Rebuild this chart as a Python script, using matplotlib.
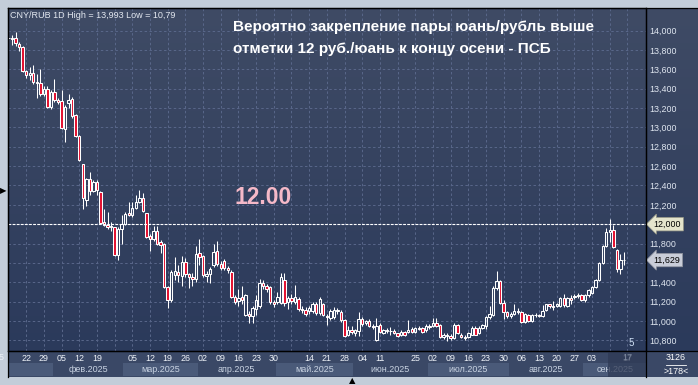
import numpy as np
import pandas as pd
import matplotlib
matplotlib.use("Agg")
import matplotlib.pyplot as plt
from matplotlib.colors import LinearSegmentedColormap
from matplotlib.patches import Rectangle
from matplotlib.lines import Line2D
import matplotlib.transforms as mtransforms

# CNY/RUB daily candles, 15 Jan 2025 onwards (business days)
opens = [13.92, 13.91, 13.93, 13.86, 13.83, 13.58, 13.54, 13.56, 13.47, 13.46,
         13.35, 13.40, 13.21, 13.37, 13.28, 13.27, 12.98, 13.25, 13.29, 13.13,
         12.91, 12.62, 12.25, 12.47, 12.34, 12.44, 12.33, 12.02, 11.99, 11.97,
         11.97, 11.68, 11.95, 12.00, 12.12, 12.10, 12.17, 12.23, 12.27, 12.12,
         11.88, 11.85, 11.93, 11.82, 11.80, 11.35, 11.22, 11.475, 11.51, 11.46,
         11.61, 11.48, 11.45, 11.43, 11.70, 11.67, 11.46, 11.48, 11.58, 11.72,
         11.59, 11.62, 11.55, 11.51, 11.25, 11.21, 11.25, 11.06, 11.07, 11.05,
         11.12, 11.15, 11.39, 11.36, 11.35, 11.20, 11.20, 11.19, 11.42, 11.20,
         11.24, 11.20, 11.23, 11.12, 11.11, 11.10, 11.10, 11.18, 11.08, 11.18,
         11.05, 11.03, 11.04, 11.10, 11.09, 11.01, 10.855, 10.91, 10.88, 10.90,
         11.02, 10.98, 11.00, 10.95, 10.80, 10.96, 10.88, 10.91, 10.90, 10.90,
         10.87, 10.85, 10.89, 10.89, 10.92, 10.89, 10.93, 10.93, 10.91, 10.95,
         10.95, 10.98, 10.96, 10.83, 10.85, 10.84, 10.82, 10.96, 10.855, 10.83,
         10.83, 10.855, 10.93, 10.87, 10.93, 10.95, 11.04, 11.06, 11.34, 11.41,
         11.19, 11.09, 11.05, 11.07, 11.10, 11.09, 10.99, 11.06, 11.00, 11.06,
         11.06, 11.05, 11.11, 11.17, 11.15, 11.15, 11.15, 11.24, 11.15, 11.24,
         11.25, 11.26, 11.27, 11.22, 11.27, 11.29, 11.35, 11.42, 11.60, 11.77,
         11.92, 11.94, 11.73, 11.54, 11.63]
highs = [13.95, 13.955, 13.99, 13.88, 13.84, 13.59, 13.62, 13.65, 13.55, 13.60,
         13.43, 13.43, 13.39, 13.50, 13.30, 13.39, 13.23, 13.35, 13.32, 13.14,
         12.92, 12.62, 12.48, 12.54, 12.46, 12.46, 12.34, 12.16, 12.13, 12.02,
         11.97, 11.97, 12.10, 12.13, 12.23, 12.23, 12.30, 12.35, 12.32, 12.12,
         11.90, 11.98, 11.98, 11.84, 11.81, 11.36, 11.53, 11.66, 11.58, 11.67,
         11.65, 11.50, 11.50, 11.77, 11.85, 11.68, 11.52, 11.56, 11.80, 11.83,
         11.62, 11.64, 11.57, 11.53, 11.27, 11.33, 11.36, 11.28, 11.10, 11.15,
         11.27, 11.43, 11.42, 11.38, 11.36, 11.22, 11.30, 11.50, 11.50, 11.26,
         11.28, 11.37, 11.25, 11.15, 11.14, 11.15, 11.20, 11.20, 11.25, 11.19,
         11.07, 11.12, 11.14, 11.13, 11.11, 11.02, 10.95, 10.95, 10.92, 11.09,
         11.04, 11.01, 11.02, 10.97, 11.03, 10.98, 10.92, 10.93, 10.94, 10.92,
         10.88, 10.91, 10.90, 11.01, 10.94, 10.94, 10.95, 10.94, 10.97, 10.97,
         11.03, 11.03, 10.97, 10.87, 10.87, 10.86, 10.98, 10.97, 10.87, 10.85,
         10.89, 10.95, 10.95, 10.95, 10.97, 11.05, 11.15, 11.36, 11.52, 11.42,
         11.22, 11.10, 11.09, 11.17, 11.13, 11.10, 11.08, 11.07, 11.07, 11.08,
         11.07, 11.16, 11.18, 11.18, 11.21, 11.19, 11.25, 11.28, 11.25, 11.27,
         11.28, 11.29, 11.28, 11.28, 11.33, 11.36, 11.43, 11.61, 11.78, 11.96,
         12.05, 11.99, 11.74, 11.69, 11.71]
lows = [13.90, 13.85, 13.84, 13.79, 13.57, 13.51, 13.49, 13.45, 13.30, 13.33,
        13.33, 13.20, 13.19, 13.26, 13.24, 12.98, 12.85, 13.20, 13.10, 12.90,
        12.65, 12.16, 12.19, 12.30, 12.33, 12.30, 12.00, 11.98, 11.95, 11.93,
        11.67, 11.63, 11.80, 11.99, 12.08, 12.07, 12.16, 12.22, 12.13, 11.86,
        11.72, 11.83, 11.78, 11.70, 11.34, 11.13, 11.20, 11.42, 11.40, 11.36,
        11.45, 11.34, 11.36, 11.40, 11.58, 11.45, 11.40, 11.39, 11.56, 11.57,
        11.53, 11.53, 11.50, 11.24, 11.17, 11.15, 11.18, 11.05, 10.98, 10.98,
        11.06, 11.13, 11.33, 11.30, 11.18, 11.14, 11.18, 11.17, 11.15, 11.12,
        11.17, 11.18, 11.10, 11.08, 11.05, 11.07, 11.08, 11.06, 11.06, 11.05,
        10.96, 11.01, 11.02, 11.07, 10.99, 10.83, 10.84, 10.86, 10.84, 10.84,
        10.95, 10.96, 10.94, 10.92, 10.79, 10.88, 10.86, 10.88, 10.85, 10.86,
        10.83, 10.84, 10.84, 10.87, 10.87, 10.87, 10.91, 10.88, 10.89, 10.92,
        10.94, 10.94, 10.82, 10.81, 10.79, 10.80, 10.81, 10.86, 10.82, 10.80,
        10.82, 10.85, 10.85, 10.86, 10.92, 10.92, 11.02, 11.05, 11.32, 11.18,
        11.02, 11.03, 11.03, 11.06, 11.07, 10.98, 10.98, 10.99, 10.99, 11.04,
        11.04, 11.04, 11.10, 11.13, 11.11, 11.14, 11.14, 11.14, 11.14, 11.18,
        11.23, 11.24, 11.21, 11.20, 11.25, 11.28, 11.34, 11.41, 11.59, 11.76,
        11.82, 11.75, 11.51, 11.48, 11.58]
closes = [13.93, 13.93, 13.87, 13.83, 13.58, 13.54, 13.56, 13.47, 13.46, 13.35,
          13.40, 13.21, 13.37, 13.28, 13.26, 12.99, 13.21, 13.28, 13.12, 12.91,
          12.66, 12.27, 12.47, 12.34, 12.44, 12.35, 12.01, 11.99, 11.97, 11.98,
          11.68, 11.95, 12.00, 12.11, 12.10, 12.17, 12.23, 12.27, 12.14, 11.87,
          11.85, 11.93, 11.80, 11.79, 11.35, 11.22, 11.51, 11.52, 11.47, 11.61,
          11.48, 11.45, 11.43, 11.69, 11.66, 11.47, 11.48, 11.54, 11.71, 11.59,
          11.55, 11.55, 11.53, 11.25, 11.20, 11.24, 11.22, 11.27, 11.05, 11.13,
          11.22, 11.39, 11.36, 11.33, 11.20, 11.18, 11.25, 11.45, 11.19, 11.24,
          11.21, 11.25, 11.12, 11.11, 11.07, 11.13, 11.18, 11.08, 11.23, 11.06,
          11.04, 11.10, 11.11, 11.11, 11.01, 10.84, 10.91, 10.89, 10.91, 11.02,
          10.97, 11.00, 10.95, 10.94, 10.95, 10.89, 10.91, 10.90, 10.90, 10.87,
          10.84, 10.89, 10.85, 10.91, 10.89, 10.93, 10.92, 10.89, 10.95, 10.94,
          10.98, 10.95, 10.83, 10.855, 10.84, 10.82, 10.96, 10.87, 10.83, 10.82,
          10.87, 10.93, 10.855, 10.93, 10.96, 11.04, 11.07, 11.34, 11.41, 11.19,
          11.09, 11.05, 11.07, 11.10, 11.09, 10.99, 11.07, 11.00, 11.06, 11.06,
          11.05, 11.10, 11.17, 11.15, 11.14, 11.17, 11.24, 11.16, 11.24, 11.22,
          11.26, 11.27, 11.22, 11.27, 11.32, 11.35, 11.42, 11.60, 11.77, 11.92,
          11.94, 11.76, 11.54, 11.63, 11.629]

# price scale labels (12,000 and 11,600 sit under the price tags)
y_ticks = [10.8, 11.0, 11.2, 11.4, 11.6, 11.8, 12.0, 12.2, 12.4, 12.6, 12.8,
           13.0, 13.2, 13.4, 13.6, 13.8, 14.0]
tagged_ticks = [11.6, 12.0]
hidden_days = ["2025-01-15", "2025-02-26", "2025-05-07", "2025-06-18", "2025-09-10"]
month_names = {1: "янв", 2: "фев", 3: "мар", 4: "апр", 5: "май", 6: "июн",
               7: "июл", 8: "авг", 9: "сен"}
level = 12.0

W, H = 698, 385
plt.rcParams["font.family"] = ["Liberation Sans", "DejaVu Sans"]


def fx(px):
    return px / W


def fy(py):
    return 1 - py / H


fig = plt.figure(figsize=(W / 100, H / 100), dpi=100, facecolor="#c3cdd9")

# gradient background for plot + right price panel
bg = fig.add_axes([fx(8), fy(351), (698 - 8) / W, (351 - 8) / H], zorder=0)
cmap = LinearSegmentedColormap.from_list("bg", ["#3f4b65", "#2b3a5b"])
bg.imshow(np.linspace(0, 1, 256).reshape(-1, 1), aspect="auto", cmap=cmap,
          extent=[0, 1, 0, 1])
bg.axis("off")

ax = fig.add_axes([fx(8), fy(351), (646 - 8) / W, (351 - 8) / H], zorder=2)
ax.set_facecolor("none")

cal = pd.bdate_range("2025-01-15", "2025-09-30")
n = len(closes)
x = np.arange(n)
o, h, l, c = map(np.array, (opens, highs, lows, closes))
up = c >= o
top = np.maximum(o, c)
bot = np.minimum(o, c)

ax.vlines(x, top, h, color="white", lw=0.75, zorder=3)
ax.vlines(x, l, bot, color="white", lw=0.75, zorder=3)
ax.bar(x[up], (top - bot)[up], bottom=bot[up], width=0.68,
       facecolor="none", edgecolor="white", lw=0.75, zorder=4)
ax.bar(x[~up], (top - bot)[~up], bottom=bot[~up], width=0.68,
       facecolor="#e3102f", edgecolor="white", lw=0.75, zorder=4)

ax.set_xlim(-0.14, 180.24)
ax.set_ylim(10.689, 14.235)

# weekly (Wednesday) grid
weds = pd.date_range("2025-01-15", "2025-09-17", freq="W-WED")
wed_pos = [cal.get_loc(d) for d in weds]
ax.set_xticks(wed_pos)
ax.set_yticks(y_ticks)
ax.set_yticklabels(["" if v in tagged_ticks else f"{v:.3f}".replace(".", ",")
                    for v in y_ticks])
ax.yaxis.tick_right()
ax.tick_params(axis="y", length=0, pad=2.5, labelsize=6.4, labelcolor="#dfe6f0")
ax.tick_params(axis="x", length=0, labelbottom=False)
ax.grid(True, ls=(0, (2.5, 2.5)), color="#59678a", lw=0.7, zorder=1)
for s in ax.spines.values():
    s.set_color("black")
    s.set_linewidth(0.9)

ax.axhline(level, color="white", lw=0.8, ls=(0, (2.5, 1.2)), zorder=5)

# price tags on the right
tr = mtransforms.blended_transform_factory(ax.transAxes, ax.transData)
ax.text(1.012, level, "12,000", transform=tr, fontsize=6.4, color="black",
        va="center", ha="left", zorder=6, clip_on=False,
        bbox=dict(boxstyle="larrow,pad=0.25", fc="#e4e4cc", ec="#9a9a88", lw=0.5))
ax.text(1.012, closes[-1], f"{closes[-1]:.3f}".replace(".", ","), transform=tr,
        fontsize=6.4, color="black", va="center", ha="left", zorder=6,
        clip_on=False,
        bbox=dict(boxstyle="larrow,pad=0.25", fc="#c9cdd8", ec="#8a8e9a", lw=0.5))

# date strip
axd = fig.add_axes([fx(8), fy(377), (646 - 8) / W, (377 - 351) / H], zorder=1)
axd.set_facecolor("#3a4866")
axd.set_xlim(ax.get_xlim())
axd.set_ylim(0, 1)
axd.set_xticks([])
axd.set_yticks([])
for s in axd.spines.values():
    s.set_visible(False)

for d, p in zip(weds, wed_pos):
    if d.strftime("%Y-%m-%d") in hidden_days:
        continue
    axd.text(p, 0.72, d.strftime("%d"), ha="center", va="center",
             fontsize=6.4, color="#eef2f8")

xmin, xmax = ax.get_xlim()
for m, name in month_names.items():
    idx = np.where(cal.month == m)[0]
    a = max(idx[0] - 0.5, xmin)
    b = min(idx[-1] + 0.5, xmax)
    if m % 2 == 1:
        axd.axvspan(a, b, ymin=0.04, ymax=0.54, color="#4a5a79", lw=0)
    if m > 1:
        axd.text((a + b) / 2, 0.27, f"{name}.2025", ha="center", va="center",
                 fontsize=6.5, color="#c9d3e2")

# cursor box over the last date
fig.patches.append(Rectangle((fx(608), fy(377)), 38 / W, 26 / H,
                             transform=fig.transFigure, fc="#2f3a55",
                             alpha=0.75, zorder=3))
fig.text(fx(627), fy(358), "17", ha="center", va="center", fontsize=6.4,
         color="#7f8aa0", zorder=4)

# bottom-right corner box
fig.patches.append(Rectangle((fx(646), fy(377)), 52 / W, 26 / H,
                             transform=fig.transFigure, fc="#3a4866", zorder=1))
fig.text(fx(676), fy(357.5), "3126", ha="center", va="center", fontsize=6.4,
         color="white", zorder=4)
fig.text(fx(676), fy(371.5), ">178<", ha="center", va="center", fontsize=6.4,
         color="white", zorder=4)
fig.add_artist(Line2D([fx(666), fx(686)], [fy(364.5), fy(364.5)], color="white",
                      lw=0.6, zorder=4))

# frame lines
for xs, ys in [([8, 698], [8, 8]), ([8, 698], [351, 351]), ([646, 646], [8, 377]),
               ([8, 8], [8, 377])]:
    fig.add_artist(Line2D([fx(v) for v in xs], [fy(v) for v in ys],
                          color="black", lw=0.9, zorder=5))

# texts
fig.text(fx(10), fy(16), "CNY/RUB 1D High = 13,993 Low = 10,79", fontsize=6.5,
         color="#e3e8f0", va="center", zorder=6)
fig.text(fx(233), fy(27), "Вероятно закрепление пары юань/рубль выше",
         fontsize=11, fontweight="bold", color="white", va="center", zorder=6)
fig.text(fx(233), fy(49), "отметки 12 руб./юань к концу осени - ПСБ",
         fontsize=11, fontweight="bold", color="white", va="center", zorder=6)
fig.text(fx(235), fy(198), "12.00", fontsize=16.5, fontweight="bold",
         color="#f5b9c8", va="center", zorder=6)
fig.text(fx(631), fy(343), "5", fontsize=7, color="#cfe0f5", ha="center",
         va="center", zorder=6)
fig.text(fx(1.5), fy(358), "5", fontsize=6.4, color="#eef2f8", ha="center",
         va="center", zorder=6)
fig.text(fx(3.5), fy(191), "\u25b6", fontsize=6, color="black", ha="center",
         va="center", family="DejaVu Sans", zorder=6)
fig.text(fx(352), fy(381), "\u25b2", fontsize=6, color="black", ha="center",
         va="center", family="DejaVu Sans", zorder=6)

fig.savefig("out.png", dpi=100, facecolor=fig.get_facecolor())
